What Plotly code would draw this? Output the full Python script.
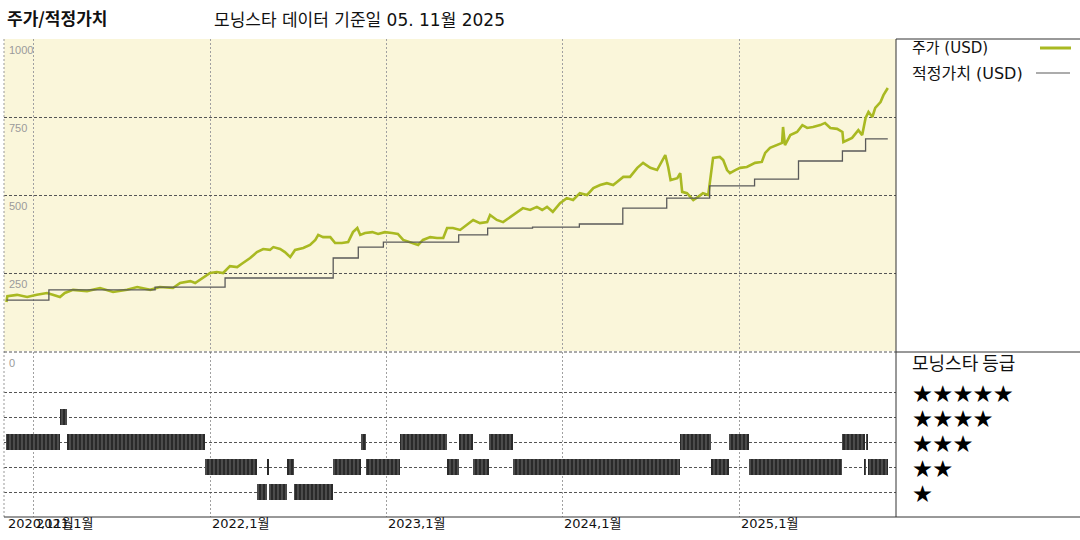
import pandas as pd
import plotly.graph_objects as go

# ---------------- data ----------------
price_dates = [
    "2020-11-05", "2020-11-07", "2020-11-27", "2020-12-18", "2021-01-07", "2021-01-28", "2021-02-09", "2021-02-24", "2021-03-06", "2021-03-23",
    "2021-04-21", "2021-05-18", "2021-06-14", "2021-07-13", "2021-08-03", "2021-08-30", "2021-09-19", "2021-10-16", "2021-10-31", "2021-11-21",
    "2021-12-01", "2021-12-17", "2022-01-01", "2022-01-15", "2022-01-28", "2022-02-11", "2022-02-26", "2022-03-10", "2022-03-25", "2022-04-08",
    "2022-04-21", "2022-05-05", "2022-05-12", "2022-05-26", "2022-06-05", "2022-06-16", "2022-06-26", "2022-07-13", "2022-07-27", "2022-08-07",
    "2022-08-13", "2022-08-23", "2022-09-07", "2022-09-17", "2022-10-01", "2022-10-14", "2022-10-24", "2022-11-02", "2022-11-08", "2022-11-18",
    "2022-12-03", "2022-12-15", "2022-12-29", "2023-01-13", "2023-01-25", "2023-02-05", "2023-02-24", "2023-03-08", "2023-03-18", "2023-04-02",
    "2023-04-16", "2023-04-29", "2023-05-07", "2023-05-19", "2023-06-03", "2023-06-17", "2023-06-30", "2023-07-14", "2023-07-29", "2023-08-04",
    "2023-08-18", "2023-08-31", "2023-09-14", "2023-09-29", "2023-10-11", "2023-10-26", "2023-11-09", "2023-11-20", "2023-11-30", "2023-12-12",
    "2023-12-27", "2024-01-10", "2024-01-23", "2024-02-06", "2024-02-21", "2024-03-05", "2024-03-19", "2024-04-02", "2024-04-15", "2024-04-23",
    "2024-05-06", "2024-05-20", "2024-06-04", "2024-06-16", "2024-07-01", "2024-07-15", "2024-07-26", "2024-08-01", "2024-08-07", "2024-08-12",
    "2024-08-26", "2024-09-01", "2024-09-05", "2024-09-15", "2024-09-22", "2024-09-28", "2024-10-08", "2024-10-18", "2024-10-29", "2024-11-04",
    "2024-11-08", "2024-11-22", "2024-11-29", "2024-12-07", "2024-12-13", "2024-12-24", "2025-01-03", "2025-01-17", "2025-02-03", "2025-02-17",
    "2025-02-24", "2025-03-06", "2025-03-20", "2025-03-31", "2025-04-02", "2025-04-06", "2025-04-17", "2025-05-01", "2025-05-12", "2025-05-22",
    "2025-06-03", "2025-06-18", "2025-06-28", "2025-07-09", "2025-07-23", "2025-08-03", "2025-08-05", "2025-08-13", "2025-08-23", "2025-09-05",
    "2025-09-13", "2025-09-20", "2025-09-26", "2025-10-04", "2025-10-10", "2025-10-21", "2025-10-27", "2025-11-05",
]
price_usd = [
    157, 176, 180, 173, 180, 186, 180, 173, 186, 196,
    192, 202, 189, 196, 205, 196, 205, 202, 218, 224,
    218, 234, 250, 253, 250, 272, 269, 282, 298, 317,
    327, 324, 333, 327, 317, 301, 324, 330, 340, 356,
    372, 365, 365, 346, 346, 349, 381, 394, 372, 378,
    381, 375, 381, 378, 375, 356, 346, 340, 356, 365,
    362, 362, 394, 394, 388, 404, 420, 410, 413, 436,
    420, 413, 429, 446, 458, 452, 462, 452, 462, 446,
    474, 490, 484, 506, 500, 522, 532, 538, 532, 542,
    558, 558, 587, 603, 587, 580, 612, 628, 590, 548,
    554, 570, 510, 506, 494, 484, 494, 506, 500, 580,
    619, 622, 612, 580, 570, 580, 587, 590, 603, 606,
    635, 651, 660, 667, 718, 660, 692, 702, 724, 715,
    718, 724, 731, 715, 712, 702, 670, 676, 683, 708,
    692, 747, 766, 750, 779, 798, 820, 843,
]

fair_dates = ["2020-11-05", "2021-02-01", "2021-09-09", "2022-02-01", "2022-09-13", "2022-11-04", "2022-12-26",
              "2023-05-31", "2023-07-30", "2023-10-31", "2024-02-05", "2024-05-05", "2024-08-04", "2024-11-01",
              "2025-02-02", "2025-05-04", "2025-08-03", "2025-09-20", "2025-11-05"]
fair_usd = [163, 196, 205, 234, 298, 333, 349, 372, 394, 397, 407, 458, 490, 529, 551, 609, 641, 680, 680]

rating_start = ["2020-11-05", "2021-02-24", "2021-03-10", "2021-12-21", "2022-04-08", "2022-04-29", "2022-05-03",
                "2022-06-10", "2022-06-23", "2022-09-12", "2022-11-10", "2022-11-20", "2023-01-29", "2023-05-06",
                "2023-06-01", "2023-06-29", "2023-08-02", "2023-09-21", "2024-09-01", "2024-11-04", "2024-12-11",
                "2025-01-22", "2025-08-02", "2025-09-18", "2025-09-21", "2025-09-25"]
rating_end = rating_start[1:] + ["2025-11-05"]
rating_stars = [3, 4, 3, 2, 1, 2, 1, 2, 1, 2, 3, 2, 3, 2, 3, 2, 3, 2, 3, 2, 3, 2, 3, 2, 3, 2]

year_ticks = ["2021-01-01", "2022-01-01", "2023-01-01", "2024-01-01", "2025-01-01"]
xlabel_dates = ["2020-11-05", "2021-01-01", "2022-01-01", "2023-01-01", "2024-01-01", "2025-01-01"]
xlabel_text = ["2020,11월", "2021,1월", "2022,1월", "2023,1월", "2024,1월", "2025,1월"]
price_ticks = [1000, 750, 500, 250]
star_levels = [5, 4, 3, 2, 1]

title_left = "주가/적정가치"
title_main = "모닝스타 데이터 기준일 05. 11월 2025"
legend_price = "주가 (USD)"
legend_fair = "적정가치 (USD)"
legend_rating = "모닝스타 등급"

# ---------------- geometry helpers ----------------
W, H = 1080, 540
ML, MR, MT, MB = 4, 184, 39, 23
PW, PH = W - ML - MR, H - MT - MB


def px_x(px):
    return (px - ML) / PW


def px_y(py):
    return (H - MB - py) / PH


top_dom = [px_y(351), 1.0]
bot_dom = [0.0, px_y(352)]
RATING_TOP = 6.6

FONT = "DejaVu Sans, Noto Sans CJK KR, sans-serif"
CJK = "Noto Sans CJK KR"
GREEN = "#A9B922"

fig = go.Figure()

fig.add_trace(go.Scatter(x=price_dates, y=price_usd, mode="lines",
                         line=dict(color=GREEN, width=2.6), xaxis="x", yaxis="y",
                         showlegend=False, hoverinfo="skip"))
fig.add_trace(go.Scatter(x=fair_dates, y=fair_usd, mode="lines",
                         line=dict(color="#5a5a5a", width=1.3, shape="hv"), xaxis="x", yaxis="y",
                         showlegend=False, hoverinfo="skip"))

starts = pd.to_datetime(rating_start)
ends = pd.to_datetime(rating_end)
dur = ends - starts
mids = starts + dur / 2
widths_ms = [d.total_seconds() * 1000 for d in dur]
BAR_H = 0.66
fig.add_trace(go.Bar(x=mids, y=[BAR_H] * len(rating_stars), base=[s - BAR_H / 2 for s in rating_stars],
                     width=widths_ms, xaxis="x2", yaxis="y2", showlegend=False, hoverinfo="skip",
                     marker=dict(color="#2a2a2a", line=dict(width=0),
                                 pattern=dict(shape="|", fgcolor="#9a9a9a", bgcolor="#2a2a2a",
                                              size=4, solidity=0.3))))

x_range = ["2020-10-31", "2025-11-22"]
common_x = dict(range=x_range, type="date", tickvals=year_ticks, showticklabels=False,
                showgrid=True, gridcolor="#a0a0a0", griddash="2px,2px", gridwidth=1,
                zeroline=False, showline=False, ticks="")
fig.update_layout(
    width=W, height=H,
    margin=dict(l=ML, r=MR, t=MT, b=MB),
    paper_bgcolor="white", plot_bgcolor="white",
    bargap=0,
    xaxis=dict(domain=[0, 1], anchor="y", **common_x),
    xaxis2=dict(domain=[0, 1], anchor="y2", matches="x", **common_x),
    yaxis=dict(domain=top_dom, range=[0, 1000], tickvals=[0, 250, 500, 750, 1000],
               showticklabels=False, showgrid=True, gridcolor="#555555", griddash="3px,2px",
               zeroline=False, showline=False, ticks=""),
    yaxis2=dict(domain=bot_dom, range=[0, RATING_TOP], tickvals=star_levels,
                showticklabels=False, showgrid=True, gridcolor="#555555", griddash="3px,2px",
                zeroline=False, showline=False, ticks=""),
    font=dict(family=FONT, color="#222"),
)

shapes = []
shapes.append(dict(type="rect", xref="x domain", yref="y domain", x0=0, x1=1, y0=0, y1=1,
                   fillcolor="#FAF6DA", line=dict(width=0), layer="below"))
shapes.append(dict(type="line", xref="paper", yref="paper", x0=0, x1=0, y0=0, y1=1,
                   line=dict(color="#999999", width=1, dash="2px,2px")))
shapes.append(dict(type="line", xref="paper", yref="paper", x0=0, x1=1, y0=bot_dom[1], y1=bot_dom[1],
                   line=dict(color="#555555", width=1, dash="3px,2px")))
shapes.append(dict(type="line", xref="paper", yref="paper", x0=1, x1=1, y0=0, y1=1,
                   line=dict(color="#333333", width=1)))
shapes.append(dict(type="line", xref="paper", yref="paper", x0=0, x1=px_x(W), y0=0, y1=0,
                   line=dict(color="#333333", width=1)))
shapes.append(dict(type="line", xref="paper", yref="paper", x0=1, x1=px_x(W), y0=1, y1=1,
                   line=dict(color="#333333", width=1)))
shapes.append(dict(type="line", xref="paper", yref="paper", x0=1, x1=px_x(W), y0=bot_dom[1], y1=bot_dom[1],
                   line=dict(color="#333333", width=1)))
shapes.append(dict(type="line", xref="paper", yref="paper", x0=px_x(1040), x1=px_x(1071),
                   y0=px_y(48), y1=px_y(48), line=dict(color=GREEN, width=3)))
shapes.append(dict(type="line", xref="paper", yref="paper", x0=px_x(1036), x1=px_x(1070),
                   y0=px_y(73), y1=px_y(73), line=dict(color="#5a5a5a", width=1.2)))

ann = []
ann.append(dict(text="<b>" + title_left + "</b>", xref="paper", yref="paper", x=px_x(5), y=px_y(17),
                xanchor="left", yanchor="middle", showarrow=False,
                font=dict(size=17, color="#111", family=CJK)))
ann.append(dict(text=title_main, xref="paper", yref="paper", x=px_x(212), y=px_y(20),
                xanchor="left", yanchor="middle", showarrow=False,
                font=dict(size=17, color="#111", family=FONT)))
ann.append(dict(text=legend_price, xref="paper", yref="paper", x=px_x(910), y=px_y(48),
                xanchor="left", yanchor="middle", showarrow=False, font=dict(size=15, color="#111")))
ann.append(dict(text=legend_fair, xref="paper", yref="paper", x=px_x(910), y=px_y(73),
                xanchor="left", yanchor="middle", showarrow=False, font=dict(size=16, color="#111")))
ann.append(dict(text=legend_rating, xref="paper", yref="paper", x=px_x(910), y=px_y(362),
                xanchor="left", yanchor="middle", showarrow=False,
                font=dict(size=18, color="#111", family=CJK)))
for lvl in star_levels:
    ann.append(dict(text="\u200a".join(["★"] * lvl), xref="paper", yref="y2", x=px_x(911), y=lvl,
                    xanchor="left", yanchor="middle", showarrow=False,
                    font=dict(size=19, color="#000", family=CJK)))
for v in price_ticks:
    ann.append(dict(text=str(v), xref="paper", yref="y", x=px_x(7), y=v, yshift=-3,
                    xanchor="left", yanchor="top", showarrow=False,
                    font=dict(size=11, color="#9a9a9a", family="Liberation Sans")))
ann.append(dict(text="0", xref="paper", yref="y2", x=px_x(7), y=RATING_TOP, yshift=-3,
                xanchor="left", yanchor="top", showarrow=False,
                font=dict(size=11, color="#9a9a9a", family="Liberation Sans")))
for d, t in zip(xlabel_dates, xlabel_text):
    ann.append(dict(text=t, xref="x2", yref="paper", x=d, y=px_y(523),
                    xanchor="left", yanchor="middle", showarrow=False,
                    font=dict(size=13, color="#111")))

fig.update_layout(shapes=shapes, annotations=ann)
fig.write_html("out.html", config={"displayModeBar": False},
               post_script="document.body.style.margin='0';")
